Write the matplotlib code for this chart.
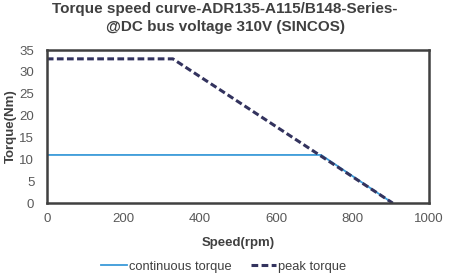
import matplotlib
matplotlib.use("Agg")
import matplotlib.pyplot as plt

plt.rcParams['font.family'] = ['Liberation Sans', 'DejaVu Sans']

cont_speed = [0, 718, 905]
cont_torque = [11, 11, 0]
peak_speed = [0, 330, 905]
peak_torque = [33, 33, 0]
x_ticks = [0, 200, 400, 600, 800, 1000]
y_ticks = [0, 5, 10, 15, 20, 25, 30, 35]

fig = plt.figure(figsize=(4.5, 2.8), dpi=100)
ax = fig.add_axes([0.104, 0.275, 0.849, 0.546])
ax.plot(cont_speed, cont_torque, color='#3A9AD9', lw=1.3, label='continuous torque')
ax.plot(peak_speed, peak_torque, color='#33335E', lw=2.2, ls=(0, (2.2, 1.1)), label='peak torque')
ax.set_xlim(0, 1000)
ax.set_ylim(0, 35)
ax.set_xticks(x_ticks)
ax.set_yticks(y_ticks)
ax.tick_params(axis='x', length=0, labelsize=9.5, colors='#595959', pad=7)
ax.tick_params(axis='y', length=0, labelsize=9.5, colors='#595959', pad=9)
for s in ax.spines.values():
    s.set_color('#404040')
    s.set_linewidth(1.8)
ax.set_xlabel('Speed(rpm)', fontsize=9.5, fontweight='bold', color='#404040', labelpad=9)
ax.set_ylabel('Torque(Nm)', fontsize=9.5, fontweight='bold', color='#404040', labelpad=2)
fig.text(0.5, 0.993, 'Torque speed curve-ADR135-A115/B148-Series-\n@DC bus voltage 310V (SINCOS)',
         ha='center', va='top', fontsize=11, fontweight='bold', color='#404040', linespacing=1.35)
fig.legend(loc='lower center', bbox_to_anchor=(0.497, -0.015), ncol=2, frameon=False,
           fontsize=9.3, handlelength=2.0, handletextpad=0.1, columnspacing=1.5,
           labelcolor='#404040')
fig.savefig('out.png', dpi=100)
